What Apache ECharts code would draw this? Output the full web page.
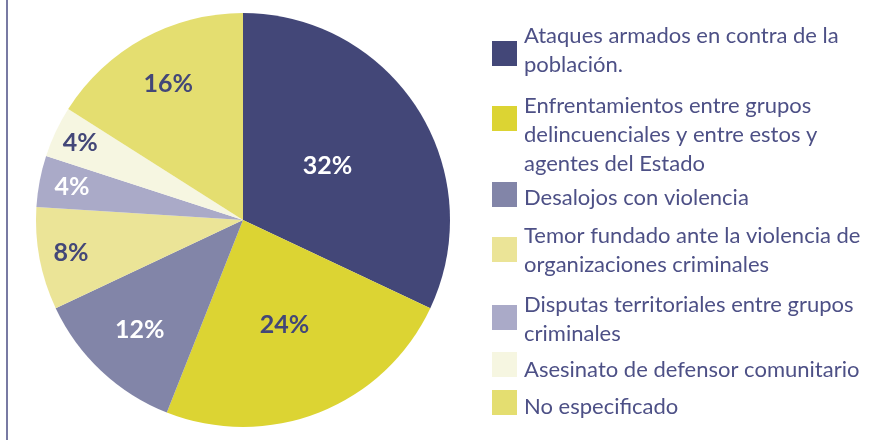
<!DOCTYPE html>
<html>
<head>
<meta charset="utf-8">
<script src="https://cdn.jsdelivr.net/npm/echarts@6/dist/echarts.min.js"></script>
<style>
html, body { margin: 0; padding: 0; background: #fff; }
#main { width: 878px; height: 440px; }
</style>
</head>
<body>
<div id="main"></div>
<script>
// categorias y porcentajes
var categories = [
    'Ataques armados en contra de la\npoblación.',
    'Enfrentamientos entre grupos\ndelincuenciales y entre estos y\nagentes del Estado',
    'Desalojos con violencia',
    'Temor fundado ante la violencia de\norganizaciones criminales',
    'Disputas territoriales entre grupos\ncriminales',
    'Asesinato de defensor comunitario',
    'No especificado'
];
var values = [32, 24, 12, 8, 4, 4, 16];

var colors = ['#434778', '#dcd433', '#8285a8', '#ebe497', '#aaaac8', '#f6f6e1', '#e4de70'];
var labelColors = ['#fff', '#434778', '#fff', '#434778', '#fff', '#434778', '#434778'];
var labelRadius = [100, 113, 151, 175, 174, 180, 155];
var iconTops = [41, 106, 182, 237, 305, 352, 390];
var textTops = [21.5, 91, 183.5, 221.5, 290, 355.5, 392];

var cx = 243, cy = 220;
var textColor = '#4d5086';

var myChart = echarts.init(document.getElementById('main'));

var seriesData = [];
for (var i = 0; i < categories.length; i++) {
    seriesData.push({
        value: values[i],
        name: categories[i],
        label: { color: labelColors[i] }
    });
}

// leyenda: cuadros y textos por separado para colocarlos a mano
var legends = [];
for (var j = 0; j < categories.length; j++) {
    legends.push({
        data: [categories[j]],
        left: 492,
        top: iconTops[j],
        padding: 0,
        itemWidth: 25,
        itemHeight: 25,
        icon: 'rect',
        selectedMode: false,
        formatter: function () { return ''; }
    });
    legends.push({
        data: [categories[j]],
        left: 519,
        top: textTops[j],
        padding: 0,
        itemWidth: 0,
        itemHeight: 10,
        icon: 'none',
        selectedMode: false,
        textStyle: {
            color: textColor,
            fontFamily: 'Lato',
            fontSize: 22,
            lineHeight: 29
        }
    });
}

var option = {
    backgroundColor: '#fff',
    animation: false,
    color: colors,
    legend: legends,
    graphic: [{
        type: 'line',
        shape: { x1: 7, y1: 0, x2: 7, y2: 440 },
        style: { stroke: '#4b4e84', lineWidth: 1.5 }
    }],
    series: [{
        type: 'pie',
        center: [cx, cy],
        radius: 207,
        startAngle: 90,
        clockwise: true,
        label: {
            show: true,
            position: 'inside',
            formatter: '{c}%',
            fontFamily: 'Lato',
            fontWeight: 'bold',
            fontSize: 25
        },
        labelLine: { show: false },
        labelLayout: function (params) {
            var r = params.labelRect;
            var lx = r.x + r.width / 2;
            var ly = r.y + r.height / 2;
            var vx = lx - cx, vy = ly - cy;
            var d = Math.sqrt(vx * vx + vy * vy);
            var k = labelRadius[params.dataIndex] / d - 1;
            return { dx: vx * k, dy: vy * k };
        },
        itemStyle: { borderWidth: 0 },
        emphasis: { disabled: true },
        data: seriesData
    }]
};

myChart.setOption(option);
</script>
</body>
</html>
